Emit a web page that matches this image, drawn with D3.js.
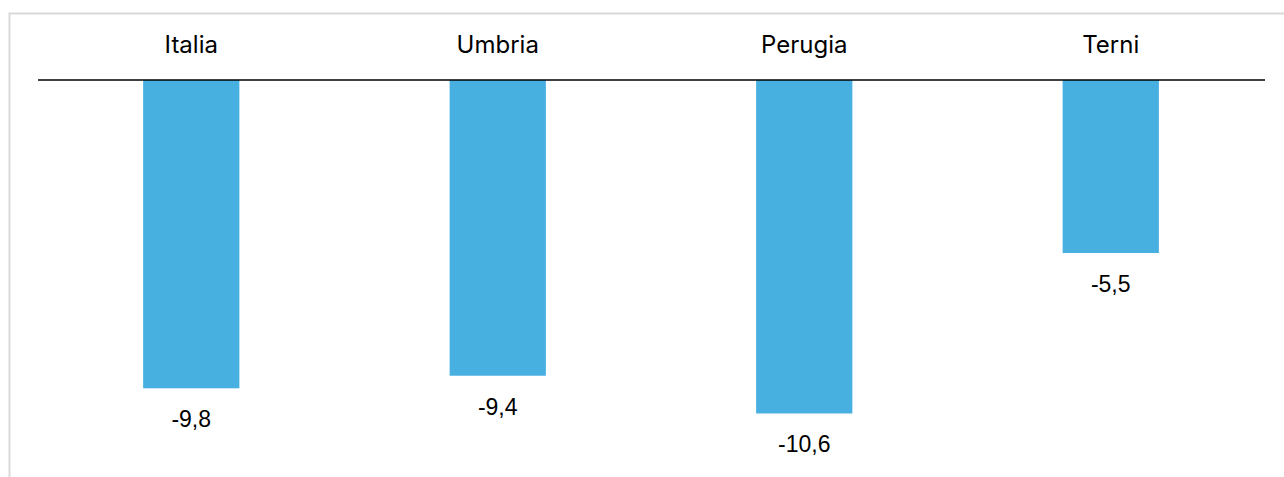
<!DOCTYPE html>
<html>
<head>
<meta charset="utf-8">
<script src="https://cdn.jsdelivr.net/npm/d3@7"></script>
<style>
  html, body { margin: 0; padding: 0; background: #fff; }
  svg { display: block; }
</style>
</head>
<body>
<svg id="chart" width="1284" height="477"></svg>
<script>
const categories = ["Italia", "Umbria", "Perugia", "Terni"];
const values = [-9.8, -9.4, -10.6, -5.5];
const valueLabels = ["-9,8", "-9,4", "-10,6", "-5,5"];

const W = 1284, H = 477;
const svg = d3.select("#chart");

// chart frame
svg.append("rect")
  .attr("x", 9.5).attr("y", 13.5)
  .attr("width", 1290).attr("height", 480)
  .attr("fill", "#fff")
  .attr("stroke", "#d9d9d9")
  .attr("stroke-width", 2);

const x = d3.scaleBand()
  .domain(categories)
  .range([38, 1264])
  .paddingInner(0.686)
  .paddingOuter(0.343);

const y = d3.scaleLinear()
  .domain([0, -12])
  .range([80, 80 + 12 * 31.46]);

// bars
svg.append("g").selectAll("rect")
  .data(categories)
  .join("rect")
  .attr("x", d => x(d))
  .attr("y", y(0))
  .attr("width", x.bandwidth())
  .attr("height", (d, i) => y(values[i]) - y(0))
  .attr("fill", "#47B0E1");

// zero line
svg.append("line")
  .attr("x1", 38).attr("x2", 1265)
  .attr("y1", y(0)).attr("y2", y(0))
  .attr("stroke", "#000")
  .attr("stroke-width", 1.5);

// category labels (axis at top)
const axis = d3.axisTop(x).tickSize(0).tickPadding(0);
const gAxis = svg.append("g").attr("transform", "translate(0,53)").call(axis);
gAxis.select(".domain").remove();
gAxis.selectAll("text")
  .attr("dy", 0)
  .attr("y", 0)
  .style("font-family", "Inter, 'Noto Sans', sans-serif")
  .style("font-size", "24px")
  .attr("fill", "#000");

// value labels
svg.append("g").selectAll("text")
  .data(categories)
  .join("text")
  .attr("x", d => x(d) + x.bandwidth() / 2)
  .attr("y", (d, i) => y(values[i]) + 39)
  .attr("text-anchor", "middle")
  .style("font-family", "'Liberation Sans', Arial, sans-serif")
  .style("font-size", "23px")
  .attr("fill", "#000")
  .text((d, i) => valueLabels[i]);
</script>
</body>
</html>
